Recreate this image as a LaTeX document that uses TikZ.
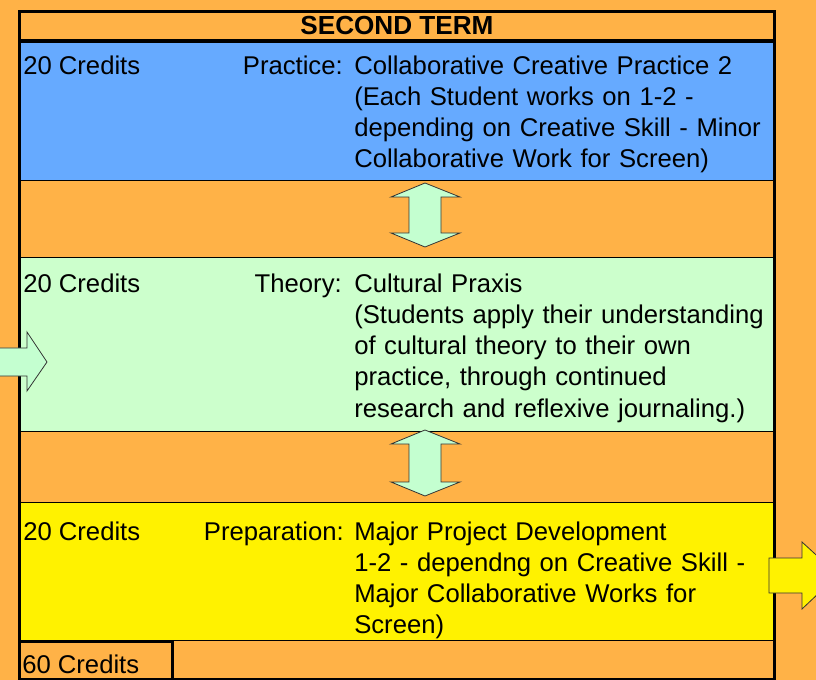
\documentclass[tikz,border=0pt]{standalone}
\usepackage{fontspec}
\setmainfont{Liberation Sans}
\usepackage{tikz}
\usetikzlibrary{calc,positioning}
\definecolor{bgorange}{RGB}{255,178,71}
\definecolor{practiceblue}{RGB}{102,170,255}
\definecolor{theorygreen}{RGB}{204,255,204}
\definecolor{prepyellow}{RGB}{255,242,0}
\definecolor{arrowgreen}{RGB}{196,255,208}
\tikzset{
  band/.style={draw=black,line width=1.1pt,inner sep=0pt,
    minimum width={755*0.75pt},anchor=north west},
  creditlbl/.style={anchor=base west,inner sep=0pt},
  kindlbl/.style={anchor=base east,inner sep=0pt},
  bodytxt/.style={anchor=base west,inner sep=0pt,align=left,text width={440*0.75pt}},
  blockarrow/.style={draw=black!80,line width=0.6pt,line join=miter},
  every node/.style={font=\fontsize{19.25}{23.25}\selectfont}
}

\begin{document}
\begin{tikzpicture}[x=0.75pt,y=-0.75pt]
  \fill[bgorange] (0,0) rectangle (816,680);
  \useasboundingbox (0,0) rectangle (816,680);
  % bands
  \node[band,fill=bgorange,minimum height={29*0.75pt},line width=2.2pt,
    font=\fontsize{19.6}{23.25}\selectfont\bfseries] (title) at (18,10) {SECOND TERM};
  \node[band,fill=practiceblue,minimum height={141*0.75pt}] (practice) at (18,39) {};
  \node[band,fill=theorygreen,minimum height={174*0.75pt}] (theory) at (18,257) {};
  \node[band,fill=prepyellow,minimum height={138*0.75pt}] (prep) at (18,502) {};
  \node[draw,line width=2.2pt,inner sep=0pt,minimum width={755*0.75pt},
    minimum height={668*0.75pt},anchor=north west] (frame) at (18,10) {};
  \draw[line width=2.2pt] (title.south west) -- (title.south east);
  \node[draw,line width=2.2pt,inner sep=0pt,minimum width={153*0.75pt},
    minimum height={38*0.75pt},anchor=north west] (total) at (18,640) {};
  % texts
  \node[creditlbl] (practicecr) at (23,75) {20 Credits};
  \node[kindlbl] (practicekind) at (343,75) {Practice:};
  \node[bodytxt] (practicetxt) at (354,75) {Collaborative Creative Practice 2\\
    (Each Student works on 1-2 -\\
    depending on Creative Skill - Minor\\
    Collaborative Work for Screen)};
  \node[creditlbl] (theorycr) at (23,293) {20 Credits};
  \node[kindlbl] (theorykind) at (342,293) {Theory:};
  \node[bodytxt] (theorytxt) at (354,293) {Cultural Praxis\\
    (Students apply their understanding\\
    of cultural theory to their own\\
    practice, through continued\\
    research and reflexive journaling.)};
  \node[creditlbl] (prepcr) at (23,540) {20 Credits};
  \node[kindlbl] (prepkind) at (344,540) {Preparation:};
  \node[bodytxt] (preptxt) at (354,540) {Major Project Development\\
    1-2 - dependng on Creative Skill -\\
    Major Collaborative Works for\\
    Screen)};
  \node[creditlbl] (totalcr) at (22,673) {60 Credits};
  % arrows
  \foreach \T/\B in {183/247,430/496}{
    \draw[blockarrow,fill=arrowgreen] (425,\T) -- (460,\T+14) -- (441,\T+14)
      -- (441,\B-14) -- (460,\B-14) -- (425,\B) -- (391,\B-14) -- (409,\B-14)
      -- (409,\T+14) -- (391,\T+14) -- cycle;
  }
  \draw[blockarrow,fill=arrowgreen] (-5,348) -- (27,348) -- (27,332) -- (47,362)
    -- (27,391) -- (27,376) -- (-5,376) -- cycle;
  \draw[blockarrow,fill=prepyellow] (769,558) -- (802,558) -- (802,542) -- (838,575)
    -- (802,609) -- (802,593) -- (769,593) -- cycle;
\end{tikzpicture}
\end{document}
